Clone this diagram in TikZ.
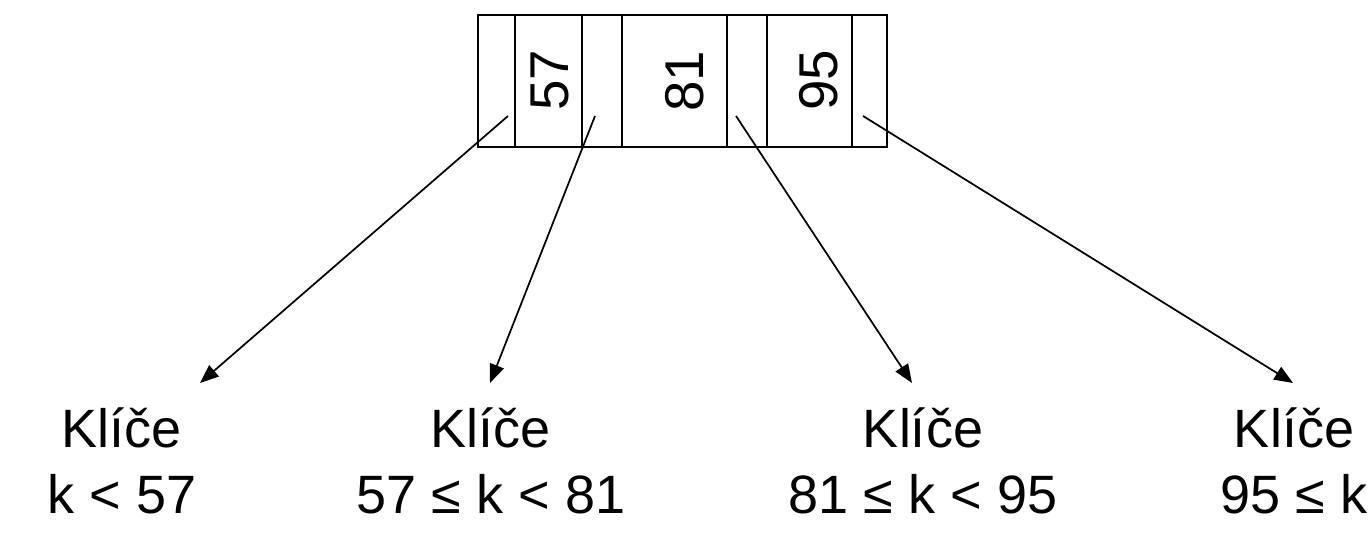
\documentclass[tikz,border=0pt]{standalone}
\usepackage{fontspec}
\setmainfont{Liberation Sans}
\usetikzlibrary{arrows.meta}

\tikzset{every picture/.style={line width=1.5pt}}
\tikzset{
  keytext/.style={inner sep=0pt, rotate=90, font=\fontsize{41}{48}\selectfont},
  rangetext/.style={inner sep=0pt, align=center, anchor=base, font=\fontsize{40.5}{49.5}\selectfont},
  ptr/.style={-{Triangle[length=14pt,width=11pt]}, line width=1.3pt}
}

\begin{document}
\begin{tikzpicture}[x=0.75pt,y=0.75pt,yscale=-1,xscale=1]
        \useasboundingbox (0,0) rectangle (1369,541);
        %Shape: Rectangle
        \draw (478,15) rectangle (887,147);
        %Straight Lines
        \foreach \xx in {515,582,622,727,767,852}
          \draw (\xx,15) -- (\xx,147);
        % Text Node
        \node [keytext] (k57) at (550,80) {57};
        % Text Node
        \node [keytext] (k81) at (685,81) {81};
        % Text Node
        \node [keytext] (k95) at (819,80) {95};
        % pointer ends
        \coordinate (p1) at (508,116);
        \coordinate (p2) at (595,116);
        \coordinate (p3) at (736,116);
        \coordinate (p4) at (863,116);
        \coordinate (t1) at (200,383);
        \coordinate (t2) at (490,383);
        \coordinate (t3) at (912,383);
        \coordinate (t4) at (1293,383);
        % Text Node
        \node [rangetext] (r1) at (122,513) {Klíče\\k < 57};
        % Text Node
        \node [rangetext] (r2) at (491,513) {Klíče\\57 ≤ k < 81};
        % Text Node
        \node [rangetext] (r3) at (923,513) {Klíče\\81 ≤ k < 95};
        % Text Node
        \node [rangetext] (r4) at (1294,513) {Klíče\\95 ≤ k};
        %Straight Lines
        \draw [ptr] (p1) -- (t1);
        \draw [ptr] (p2) -- (t2);
        \draw [ptr] (p3) -- (t3);
        \draw [ptr] (p4) -- (t4);
\end{tikzpicture}
\end{document}
